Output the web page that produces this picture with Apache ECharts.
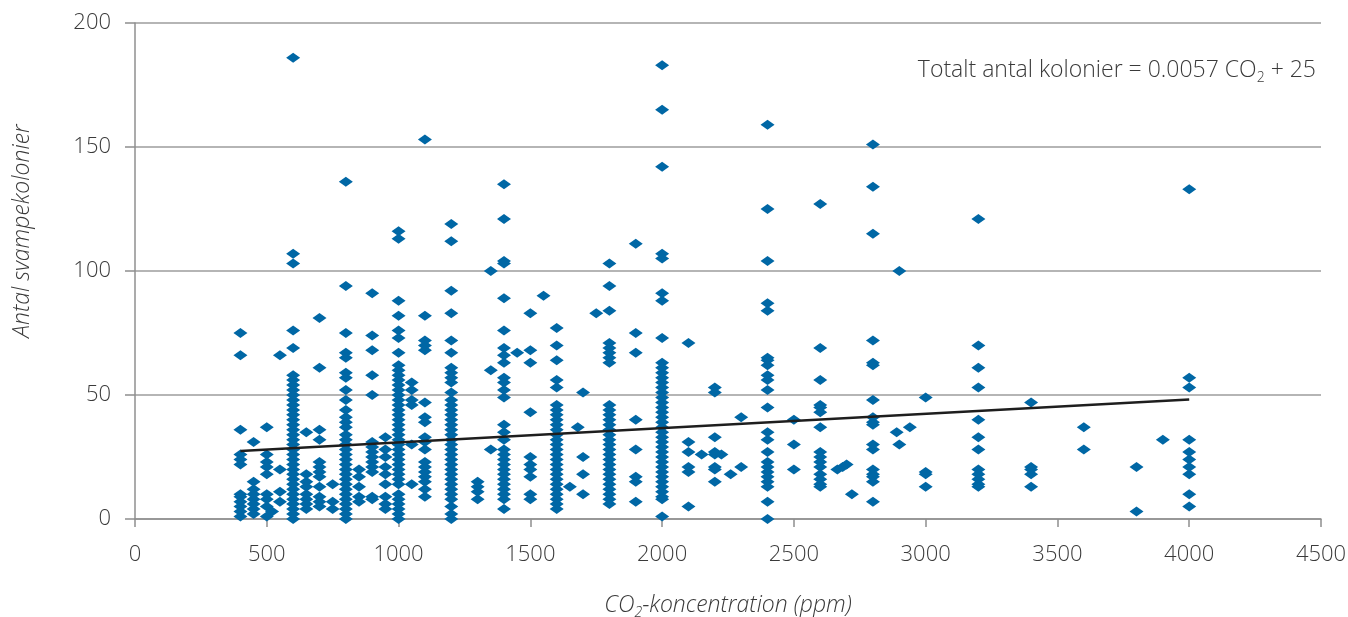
<!DOCTYPE html>
<html>
<head>
<meta charset="utf-8">
<script src="https://cdn.jsdelivr.net/npm/echarts@6/dist/echarts.min.js"></script>
<style>
html,body{margin:0;padding:0;background:#fff;overflow:hidden;}
#chart{width:1348px;height:617px;}
</style>
</head>
<body>
<div id="chart"></div>
<script>
// CO2 levels (ppm) and the colony counts read at each level
const ppm400 = [75, 66, 36, 26, 24, 22, 10, 9, 7, 5, 3, 1];
const ppm450 = [31, 15, 12, 10, 8, 6, 4, 2];
const ppm500 = [37, 26, 23, 21, 18, 10, 8, 5, 1];
const ppm520 = [3];
const ppm550 = [66, 20, 11, 7];
const ppm600 = [186, 107, 103, 76, 69, 58, 56, 54, 52, 50, 48, 46, 44, 42, 40, 38, 36, 34, 32, 30, 28, 26, 24, 22, 20, 18, 16, 14, 12, 10, 8, 6, 4, 2, 0];
const ppm650 = [35, 18, 15, 13, 10, 8, 6, 4];
const ppm700 = [81, 61, 36, 32, 23, 21, 19, 17, 13, 9, 7, 5];
const ppm750 = [14, 7, 4];
const ppm800 = [136, 94, 75, 67, 65, 59, 57, 52, 48, 44, 41, 39, 37, 34, 32, 30, 28, 26, 24, 22, 20, 18, 16, 14, 12, 10, 8, 6, 4, 2, 0];
const ppm850 = [20, 17, 13, 9, 7];
const ppm900 = [91, 74, 68, 58, 50, 31, 29, 27, 25, 23, 21, 19, 9, 8];
const ppm950 = [33, 28, 25, 21, 18, 14, 9, 6, 4];
const ppm1000 = [116, 113, 88, 82, 76, 73, 67, 62, 60, 58, 56, 54, 52, 50, 48, 46, 44, 42, 40, 38, 36, 34, 32, 30, 28, 26, 24, 22, 20, 18, 16, 14, 10, 8, 6, 4, 2, 0];
const ppm1050 = [55, 52, 48, 46, 30, 14];
const ppm1100 = [153, 82, 72, 70, 68, 47, 41, 39, 33, 31, 28, 23, 21, 19, 17, 15, 12, 9];
const ppm1200 = [119, 112, 92, 83, 72, 67, 61, 59, 57, 55, 51, 48, 46, 44, 42, 40, 38, 36, 34, 32, 30, 28, 26, 24, 22, 20, 18, 16, 14, 12, 10, 8, 5, 2, 0];
const ppm1300 = [15, 13, 11, 8];
const ppm1350 = [100, 60, 28];
const ppm1400 = [135, 121, 104, 103, 89, 76, 69, 66, 63, 57, 55, 52, 49, 38, 35, 32, 28, 26, 24, 22, 20, 18, 16, 14, 12, 10, 8, 4];
const ppm1450 = [67];
const ppm1500 = [83, 68, 63, 43, 25, 22, 20, 17, 10, 8];
const ppm1550 = [90];
const ppm1600 = [77, 70, 64, 56, 53, 46, 44, 42, 40, 38, 36, 34, 32, 30, 28, 26, 24, 22, 20, 18, 16, 14, 12, 10, 8, 6, 4];
const ppm1650 = [13];
const ppm1680 = [37];
const ppm1700 = [51, 25, 18, 10];
const ppm1750 = [83];
const ppm1800 = [103, 94, 84, 71, 69, 67, 65, 63, 46, 44, 42, 40, 38, 36, 34, 32, 30, 28, 26, 24, 22, 20, 18, 16, 14, 12, 10, 8, 6];
const ppm1900 = [111, 75, 67, 40, 28, 17, 15, 7];
const ppm2000 = [183, 165, 142, 107, 105, 91, 88, 73, 63, 61, 59, 57, 55, 53, 51, 49, 47, 45, 43, 41, 39, 37, 35, 33, 31, 29, 27, 25, 23, 21, 19, 17, 15, 13, 11, 9, 8, 1];
const ppm2100 = [71, 31, 27, 21, 19, 5];
const ppm2150 = [26];
const ppm2200 = [53, 51, 33, 27, 26, 21, 20, 15];
const ppm2225 = [26];
const ppm2260 = [18];
const ppm2300 = [41, 21];
const ppm2400 = [159, 125, 104, 87, 84, 65, 64, 62, 58, 56, 52, 45, 35, 32, 27, 23, 21, 19, 17, 15, 13, 7, 0];
const ppm2500 = [40, 30, 20];
const ppm2600 = [127, 69, 56, 46, 45, 43, 37, 27, 25, 23, 21, 18, 16, 14, 13];
const ppm2665 = [20];
const ppm2685 = [21];
const ppm2700 = [22];
const ppm2720 = [10];
const ppm2800 = [151, 134, 115, 72, 63, 62, 48, 41, 39, 38, 30, 28, 20, 18, 17, 15, 7];
const ppm2890 = [35];
const ppm2900 = [100, 30];
const ppm2940 = [37];
const ppm3000 = [49, 19, 18, 13];
const ppm3200 = [121, 70, 61, 53, 40, 33, 28, 20, 18, 16, 14, 13];
const ppm3400 = [47, 21, 20, 18, 13];
const ppm3600 = [37, 28];
const ppm3800 = [21, 3];
const ppm3900 = [32];
const ppm4000 = [133, 57, 53, 32, 27, 24, 21, 18, 10, 5];

// trend line end points (ppm, colonies)
const trendPpm = [400, 4000];
const trendColonies = [27.4, 48.2];

// axis ticks
const xTicks = [0, 500, 1000, 1500, 2000, 2500, 3000, 3500, 4000, 4500];
const yTicks = [0, 50, 100, 150, 200];

const columns = [
  [400, ppm400], [450, ppm450], [500, ppm500], [520, ppm520], [550, ppm550], [600, ppm600],
  [650, ppm650], [700, ppm700], [750, ppm750], [800, ppm800], [850, ppm850], [900, ppm900],
  [950, ppm950], [1000, ppm1000], [1050, ppm1050], [1100, ppm1100], [1200, ppm1200],
  [1300, ppm1300], [1350, ppm1350], [1400, ppm1400], [1450, ppm1450], [1500, ppm1500],
  [1550, ppm1550], [1600, ppm1600], [1650, ppm1650], [1680, ppm1680], [1700, ppm1700],
  [1750, ppm1750], [1800, ppm1800], [1900, ppm1900], [2000, ppm2000], [2100, ppm2100],
  [2150, ppm2150], [2200, ppm2200], [2225, ppm2225], [2260, ppm2260], [2300, ppm2300],
  [2400, ppm2400], [2500, ppm2500], [2600, ppm2600], [2665, ppm2665], [2685, ppm2685],
  [2700, ppm2700], [2720, ppm2720], [2800, ppm2800], [2890, ppm2890], [2900, ppm2900],
  [2940, ppm2940], [3000, ppm3000], [3200, ppm3200], [3400, ppm3400], [3600, ppm3600],
  [3800, ppm3800], [3900, ppm3900], [4000, ppm4000]
];

const points = [];
columns.forEach(function (c) {
  c[1].forEach(function (v) { points.push([c[0], v]); });
});
const trend = trendPpm.map(function (p, i) { return [p, trendColonies[i]]; });

const FONT = 'Open Sans';
const TXT = '#3a3a3a';
const AX = '#8f8f8f';

const chart = echarts.init(document.getElementById('chart'), null, { renderer: 'canvas' });
chart.setOption({
  animation: false,
  backgroundColor: '#ffffff',
  grid: { left: 135, right: 27, top: 23, bottom: 98, containLabel: false, outerBoundsMode: 'none' },
  xAxis: {
    type: 'value',
    min: xTicks[0], max: xTicks[xTicks.length - 1], interval: 500,
    splitLine: { show: false },
    axisLine: { show: true, lineStyle: { color: AX, width: 1.5 } },
    axisTick: { show: true, length: 8, lineStyle: { color: AX, width: 1.5 } },
    axisLabel: { color: TXT, fontFamily: FONT, fontWeight: 300, fontSize: 22, margin: 25, formatter: function (v) { return String(v); } },
    name: '{a|CO}{s|2}{a|-koncentration (ppm)}',
    nameLocation: 'middle',
    nameGap: 70,
    nameTextStyle: {
      fontFamily: FONT, fontStyle: 'italic', fontSize: 23, color: TXT,
      rich: {
        a: { fontFamily: FONT, fontStyle: 'italic', fontWeight: 300, fontSize: 23, color: TXT, lineHeight: 28, verticalAlign: 'bottom' },
        s: { fontFamily: FONT, fontStyle: 'italic', fontWeight: 300, fontSize: 14, color: TXT, lineHeight: 28, verticalAlign: 'bottom', padding: [0, 0, -3, 0] }
      }
    }
  },
  yAxis: {
    type: 'value',
    min: yTicks[0], max: yTicks[yTicks.length - 1], interval: 50,
    splitLine: { show: true, lineStyle: { color: '#9d9d9d', width: 1.5 } },
    axisLine: { show: true, lineStyle: { color: AX, width: 1.5 } },
    axisTick: { show: true, length: 10, lineStyle: { color: AX, width: 1.5 } },
    axisLabel: { color: TXT, fontFamily: FONT, fontWeight: 300, fontSize: 22, margin: 24 }
  },
  graphic: [
    {
      type: 'text',
      x: 22, y: 231,
      rotation: Math.PI / 2,
      style: {
        text: 'Antal svampekolonier',
        fontFamily: FONT, fontStyle: 'italic', fontWeight: 300, fontSize: 23, fill: TXT,
        align: 'center', verticalAlign: 'middle'
      }
    },
    {
      type: 'text',
      x: 1316, y: 68,
      style: {
        text: '{a|Totalt antal kolonier = 0.0057 CO}{s|2}{a| + 25}',
        align: 'right', verticalAlign: 'middle',
        rich: {
          a: { fontFamily: FONT, fontWeight: 300, fontSize: 23, fill: TXT, lineHeight: 28, verticalAlign: 'bottom' },
          s: { fontFamily: FONT, fontWeight: 300, fontSize: 14, fill: TXT, lineHeight: 28, verticalAlign: 'bottom', padding: [0, 0, -3, 0] }
        }
      }
    }
  ],
  series: [
    {
      type: 'scatter',
      data: points,
      symbol: 'diamond',
      symbolSize: [14, 10],
      itemStyle: { color: '#0067a5', opacity: 1 },
      z: 2
    },
    {
      type: 'line',
      data: trend,
      symbol: 'none',
      lineStyle: { color: '#1e1e1e', width: 2.5 },
      z: 5
    }
  ]
});
</script>
</body>
</html>
